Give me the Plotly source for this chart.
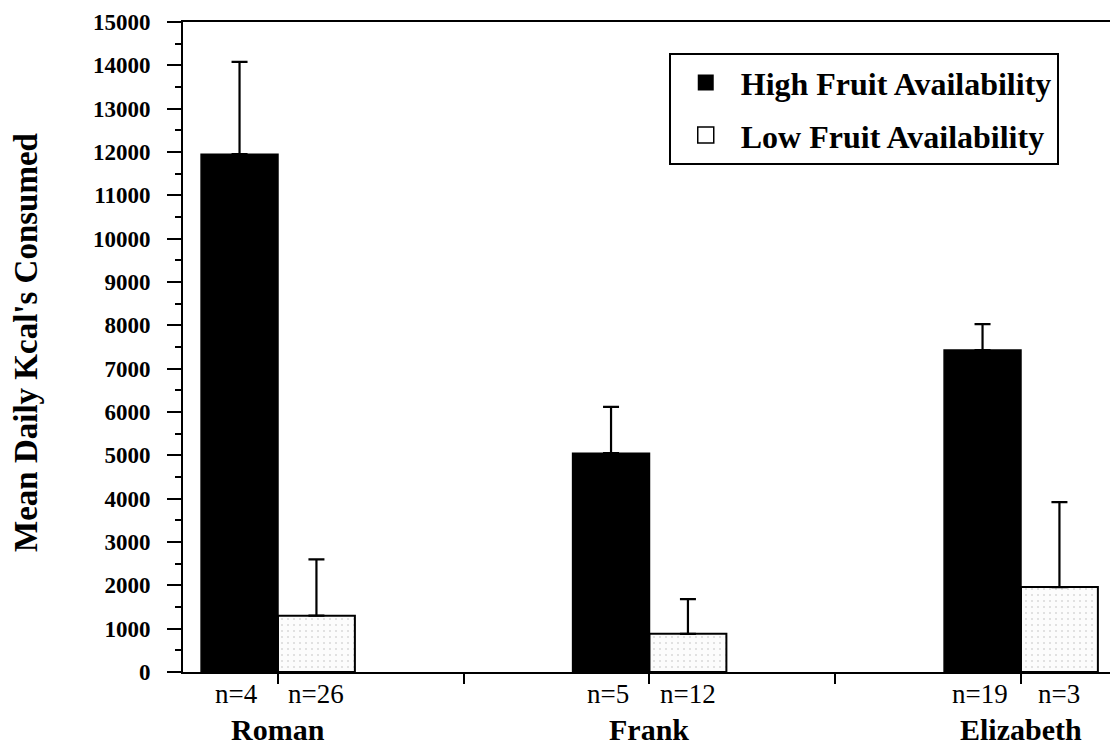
import plotly.graph_objects as go

# ---- data ----
subjects = ["Roman", "Frank", "Elizabeth"]
high_mean = [11950, 5050, 7430]
high_err = [2130, 1070, 600]
low_mean = [1300, 880, 1960]
low_err = [1300, 800, 1960]
high_n = ["n=4", "n=5", "n=19"]
low_n = ["n=26", "n=12", "n=3"]
y_ticks = list(range(0, 15001, 1000))

FONT = "Liberation Serif, Times New Roman, serif"
pos = list(range(len(subjects)))
BAR_W = 0.207

fig = go.Figure()
fig.add_trace(go.Bar(
    x=pos, y=high_mean, name="High Fruit Availability", offsetgroup="h",
    marker=dict(color="black", line=dict(color="black", width=1.5)),
    error_y=dict(type="data", array=high_err, arrayminus=[0] * 3, symmetric=False,
                 color="black", thickness=2.2, width=8),
    showlegend=False,
))
fig.add_trace(go.Bar(
    x=pos, y=low_mean, name="Low Fruit Availability", offsetgroup="l",
    marker=dict(color="white", line=dict(color="black", width=2),
                pattern=dict(shape=".", fgcolor="#b8b8b8", bgcolor="#fcfcfc", size=6, solidity=0.1)),
    error_y=dict(type="data", array=low_err, arrayminus=[0] * 3, symmetric=False,
                 color="black", thickness=2.2, width=8),
    showlegend=False,
))
# legend entries
fig.add_trace(go.Scatter(x=[None], y=[None], mode="markers", name="High Fruit Availability",
                         marker=dict(symbol="square", size=16, color="black"), legendgroup="a"))
fig.add_trace(go.Scatter(x=[None], y=[None], mode="markers", name="Low Fruit Availability",
                         marker=dict(symbol="square", size=16, color="white",
                                     line=dict(color="black", width=1.5)), legendgroup="b"))

annotations = []
for i in pos:
    annotations.append(dict(x=i - BAR_W / 2, y=0, xref="x", yref="paper", text=high_n[i],
                            showarrow=False, yanchor="middle", yshift=-22, xshift=-3,
                            font=dict(family=FONT, size=27, color="black")))
    annotations.append(dict(x=i + BAR_W / 2, y=0, xref="x", yref="paper", text=low_n[i],
                            showarrow=False, yanchor="middle", yshift=-22,
                            font=dict(family=FONT, size=27, color="black")))
    annotations.append(dict(x=i, y=0, xref="x", yref="paper", text="<b>%s</b>" % subjects[i],
                            showarrow=False, yanchor="middle", yshift=-57,
                            font=dict(family=FONT, size=30, color="black")))
annotations.append(dict(x=0, y=0.5, xref="paper", yref="paper", text="<b>Mean Daily Kcal's Consumed</b>",
                        textangle=-90, showarrow=False, xanchor="center", yanchor="middle",
                        xshift=-157, yshift=4, font=dict(family=FONT, size=33, color="black")))

fig.update_layout(
    width=1110, height=747,
    margin=dict(l=183, r=0, t=22, b=75),
    paper_bgcolor="white", plot_bgcolor="white",
    barmode="group", bargap=1 - 2 * BAR_W, bargroupgap=0,
    annotations=annotations,
    legend=dict(x=0.524, y=0.952, xanchor="left", yanchor="top",
                bordercolor="black", borderwidth=2, bgcolor="white",
                font=dict(family=FONT, size=32, color="black", weight="bold"),
                traceorder="grouped", tracegroupgap=8, itemwidth=60),
    xaxis=dict(range=[-0.2557, 2.2396], showgrid=False, zeroline=False,
               showline=True, linecolor="black", linewidth=2, mirror=True,
               tickmode="array", tickvals=[0, 0.5, 1, 1.5, 2], showticklabels=False,
               ticks="outside", ticklen=10, tickwidth=2, tickcolor="black"),
    yaxis=dict(range=[0, 15000], showgrid=False, zeroline=False,
               showline=True, linecolor="black", linewidth=2,
               tickmode="array", tickvals=y_ticks, ticktext=[str(v) for v in y_ticks],
               ticks="outside", ticklen=14, tickwidth=2, tickcolor="black",
               ticklabelstandoff=12,
               tickfont=dict(family=FONT, size=23, color="black", weight="bold"),
               minor=dict(dtick=500, ticks="outside", ticklen=6, tickwidth=2, tickcolor="black")),
)

fig.write_html("out.html")
